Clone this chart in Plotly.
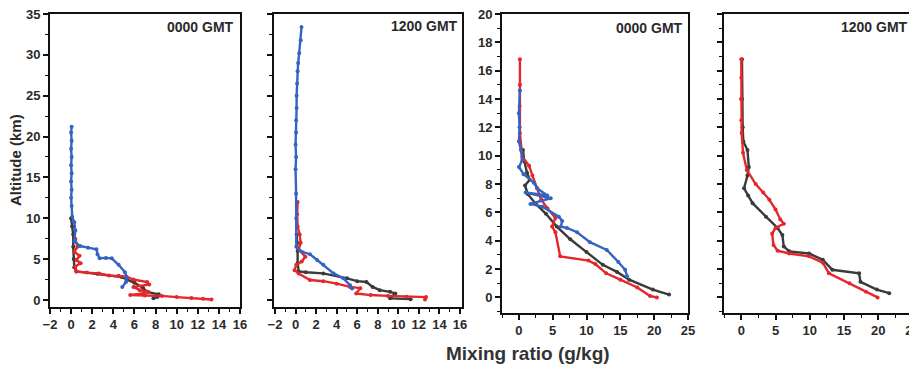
import plotly.graph_objects as go

# ---------------- data (mixing ratio g/kg, altitude km) ----------------
# Panel 1 : 0000 GMT (left pair)
p1_blue_x = [0.05, 0.0, 0.05, 0.0, 0.05, 0.0, 0.05, 0.0, 0.05, 0.0, 0.05, 0.1, 0.3, 0.4, 0.3, 0.85, 1.6, 2.4, 2.5, 2.7, 3.3, 3.85, 4.5, 5.1, 5.25, 5.2, 4.85]
p1_blue_y = [21.2, 20.5, 19.5, 18.5, 17.5, 16.5, 15.5, 14.5, 13.5, 12.5, 11.5, 10.2, 9.5, 8.5, 7.2, 6.6, 6.4, 6.2, 5.6, 5.1, 5.15, 5.1, 4.3, 3.4, 2.8, 2.2, 1.6]
p1_red_x = [0.4, 0.6, 0.3, 0.8, 0.5, 0.9, 0.4, 0.5, 1.5, 2.65, 3.6, 4.5, 5.25, 5.9, 7.2, 7.4, 5.9, 6.5, 7.3, 6.8, 5.6, 7.0, 8.6, 10.0, 11.4, 12.5, 13.3]
p1_red_y = [7.5, 6.5, 5.9, 5.4, 4.9, 4.5, 4.1, 3.5, 3.35, 3.25, 3.0, 2.95, 2.85, 2.5, 2.2, 1.9, 1.6, 1.2, 1.0, 0.8, 0.6, 0.55, 0.5, 0.35, 0.25, 0.15, 0.05]
p1_black_x = [0.0, 0.1, 0.2, 0.2, 0.25, 0.3, 0.5, 2.5, 4.8, 6.0, 6.8, 7.2, 8.3, 8.2, 7.8]
p1_black_y = [10.0, 9.0, 8.0, 6.5, 5.0, 4.0, 3.5, 3.2, 2.8, 2.1, 1.5, 1.0, 0.7, 0.4, 0.2]

# Panel 2 : 1200 GMT (left pair)
p2_blue_x = [0.58, 0.5, 0.35, 0.25, 0.2, 0.15, 0.1, 0.1, 0.05, 0.05, 0.0, 0.05, 0.0, 0.05, 0.07, 0.07, 0.6, 1.4, 2.1, 2.7, 3.7, 4.65, 5.3, 5.5]
p2_blue_y = [33.4, 31.8, 30.2, 29.0, 28.0, 26.5, 25.0, 23.5, 22.0, 20.5, 19.0, 17.5, 16.0, 13.0, 10.0, 6.5, 5.9, 5.6, 4.9, 4.3, 3.25, 2.65, 1.8, 1.4]
p2_red_x = [0.2, 0.15, 0.2, 0.4, 0.5, 0.3, 0.95, 0.6, 0.07, -0.1, 0.3, 1.4, 2.7, 4.0, 5.3, 6.3, 5.9, 7.3, 9.0, 10.8, 12.7, 12.6]
p2_red_y = [12.0, 10.5, 9.0, 8.0, 7.0, 6.2, 5.3, 4.7, 4.3, 3.65, 3.25, 2.45, 2.3, 2.0, 1.6, 1.45, 0.8, 0.6, 0.5, 0.4, 0.35, 0.05]
p2_black_x = [0.1, 0.15, 0.2, 0.2, 0.3, 1.0, 2.7, 5.0, 6.0, 6.9, 7.5, 8.2, 9.2, 9.7, 9.2, 11.2]
p2_black_y = [8.0, 7.0, 6.0, 4.5, 3.5, 3.4, 3.25, 2.65, 2.3, 2.2, 1.6, 1.2, 1.0, 0.8, 0.2, 0.1]

# Panel 3 : 0000 GMT (right pair)
p3_red_x = [0.15, 0.15, 0.1, 0.15, 0.5, 1.5, 2.0, 2.7, 3.3, 4.2, 5.4, 4.9, 5.4, 6.1, 10.3, 11.3, 12.9, 15.0, 17.5, 19.4, 20.4]
p3_red_y = [16.8, 15.0, 13.5, 11.6, 9.9, 9.3, 8.6, 7.7, 6.9, 6.3, 5.6, 5.0, 4.6, 2.9, 2.6, 2.35, 1.7, 1.25, 0.7, 0.1, 0.0]
p3_black_x = [0.6, 0.8, 1.2, 1.6, 0.9, 1.3, 2.5, 4.0, 5.6, 7.6, 10.0, 12.4, 14.5, 16.3, 19.8, 22.2]
p3_black_y = [10.4, 9.6, 8.8, 8.3, 7.9, 7.3, 6.6, 5.9, 5.0, 4.1, 3.2, 2.3, 1.8, 1.25, 0.55, 0.2]
p3_blue_x = [0.15, 0.0, 0.1, 0.0, 0.3, 0.5, 0.0, 0.7, 2.2, 2.7, 4.2, 1.0, 4.7, 1.7, 3.5, 5.9, 6.4, 6.2, 7.1, 8.6, 10.5, 13.0, 14.7, 15.7, 16.0]
p3_blue_y = [14.6, 13.0, 12.0, 11.0, 10.4, 9.7, 9.2, 8.7, 8.1, 7.7, 7.2, 7.4, 7.0, 6.6, 6.4, 5.7, 5.4, 5.0, 4.9, 4.6, 3.9, 3.35, 2.5, 1.95, 1.5]

# Panel 4 : 1200 GMT (right pair)
p4_black_x = [0.1, 0.1, 0.2, 0.3, 0.9, 1.1, 0.9, 0.4, 1.0, 1.65, 3.6, 5.3, 6.0, 6.2, 7.0, 9.9, 11.9, 13.3, 17.2, 17.4, 19.8, 21.6]
p4_black_y = [16.8, 14.0, 12.0, 11.0, 10.4, 9.2, 8.6, 7.7, 7.2, 6.65, 5.7, 4.9, 4.4, 3.6, 3.25, 3.1, 2.65, 1.95, 1.7, 1.1, 0.55, 0.3]
p4_red_x = [0.0, 0.0, -0.05, 0.0, 0.05, 0.25, 0.8, 2.1, 3.2, 4.1, 5.0, 5.7, 6.2, 5.0, 4.5, 4.7, 5.3, 7.0, 9.9, 11.9, 12.8, 15.8, 18.2, 19.9]
p4_red_y = [16.8, 15.5, 14.0, 12.5, 11.6, 10.2, 9.0, 8.0, 7.4, 6.9, 6.2, 5.5, 5.2, 4.9, 4.5, 3.7, 3.3, 3.1, 2.9, 2.45, 1.7, 1.0, 0.4, 0.0]

panel_labels = ["0000 GMT", "1200 GMT", "0000 GMT", "1200 GMT"]
x_title = "Mixing ratio (g/kg)"
y_title = "Altitude (km)"

RED = "#e5262b"
BLUE = "#3563c2"
BLACK = "#3a3a3a"

# the page body keeps an 8 px margin, so the figure is drawn 8 px in and 8 px smaller
OFF = 8
W, H = 917 - OFF, 368 - OFF

def fx(px):
    return (px - OFF) / W

def fy(py):
    return 1 - (py - OFF) / H

fig = go.Figure()

def add(x, y, color, n):
    fig.add_trace(go.Scatter(
        x=x, y=y, mode="lines+markers",
        line=dict(color=color, width=2.4),
        marker=dict(color=color, size=4, symbol="circle"),
        xaxis="x" + ("" if n == 1 else str(n)),
        yaxis="y" + ("" if n == 1 else str(n)),
        showlegend=False, hoverinfo="skip"))

# draw order: black, red, blue
add(p1_black_x, p1_black_y, BLACK, 1)
add(p1_red_x, p1_red_y, RED, 1)
add(p1_blue_x, p1_blue_y, BLUE, 1)
add(p2_black_x, p2_black_y, BLACK, 2)
add(p2_red_x, p2_red_y, RED, 2)
add(p2_blue_x, p2_blue_y, BLUE, 2)
add(p3_black_x, p3_black_y, BLACK, 3)
add(p3_red_x, p3_red_y, RED, 3)
add(p3_blue_x, p3_blue_y, BLUE, 3)
add(p4_black_x, p4_black_y, BLACK, 4)
add(p4_red_x, p4_red_y, RED, 4)

tickfont = dict(family="Liberation Sans", size=13, color="#2a2a2a", weight="bold")

def axis_common():
    return dict(showline=True, linecolor="#111111", linewidth=1.7, mirror=True,
                ticks="outside", ticklen=5, tickwidth=1.5, tickcolor="#111111",
                showgrid=False, zeroline=False, tickfont=tickfont, automargin=False,
                ticklabeloverflow="allow")

# pixel frames of the four panels in the page (left, right, top, bottom)
frames = [(50, 240, 14, 307), (274, 462, 14, 307),
          (502, 688, 14, 313), (723.5, 912.5, 14, 313)]
xranges = [[-2, 16], [-2.1, 16.2], [-2.5, 25], [-2.6, 25]]
yranges = [[-0.86, 35], [-0.86, 35], [-1.1, 20], [-1.1, 20]]

layout = dict(width=W, height=H, margin=dict(l=0, r=0, t=0, b=0, autoexpand=False),
              paper_bgcolor="white", plot_bgcolor="white")

minor_style = dict(ticks="outside", ticklen=3, tickwidth=1.3, tickcolor="#111111")

for i in range(4):
    n = "" if i == 0 else str(i + 1)
    l, r, t, b = frames[i]
    xa = axis_common()
    ya = axis_common()
    xa.update(domain=[fx(l), fx(r)], range=xranges[i], anchor="y" + n)
    ya.update(domain=[fy(b), fy(t)], range=yranges[i], anchor="x" + n)
    if i < 2:
        xa.update(tickmode="array", tickvals=list(range(-2, 17, 2)),
                  minor=dict(tickmode="array", tickvals=list(range(-2, 17)), **minor_style))
        ya.update(tickmode="array", tickvals=list(range(0, 36, 5)),
                  minor=dict(tickmode="array", tickvals=[2.5 + 5 * k for k in range(7)], **minor_style))
    else:
        xa.update(tickmode="array", tickvals=[0, 5, 10, 15, 20, 25],
                  minor=dict(tickmode="array", tickvals=[-2.5, 2.5, 7.5, 12.5, 17.5, 22.5], **minor_style))
        ya.update(tickmode="array", tickvals=list(range(0, 21, 2)),
                  minor=dict(tickmode="array", tickvals=[-1] + list(range(1, 20, 2)), **minor_style))
    if i in (1, 3):
        ya.update(showticklabels=False)
    layout["xaxis" + n] = xa
    layout["yaxis" + n] = ya

fig.update_layout(**layout)

label_pos = [(236, 27), (460, 26), (685, 28), (910, 27)]
for (px, py), txt in zip(label_pos, panel_labels):
    fig.add_annotation(text=txt, xref="paper", yref="paper", x=fx(px), y=fy(py),
                       xanchor="right", yanchor="middle", showarrow=False,
                       font=dict(family="Liberation Sans", size=14, color="#2a2a2a", weight="bold"))

fig.add_annotation(text=x_title, xref="paper", yref="paper", x=fx(528), y=fy(353),
                   xanchor="center", yanchor="middle", showarrow=False,
                   font=dict(family="Liberation Sans", size=19, color="#333333", weight="bold"))
fig.add_annotation(text=y_title, xref="paper", yref="paper", x=fx(15), y=fy(160),
                   xanchor="center", yanchor="middle", showarrow=False, textangle=-90,
                   font=dict(family="Liberation Sans", size=15, color="#2a2a2a", weight="bold"))

fig.write_html("out.html")
